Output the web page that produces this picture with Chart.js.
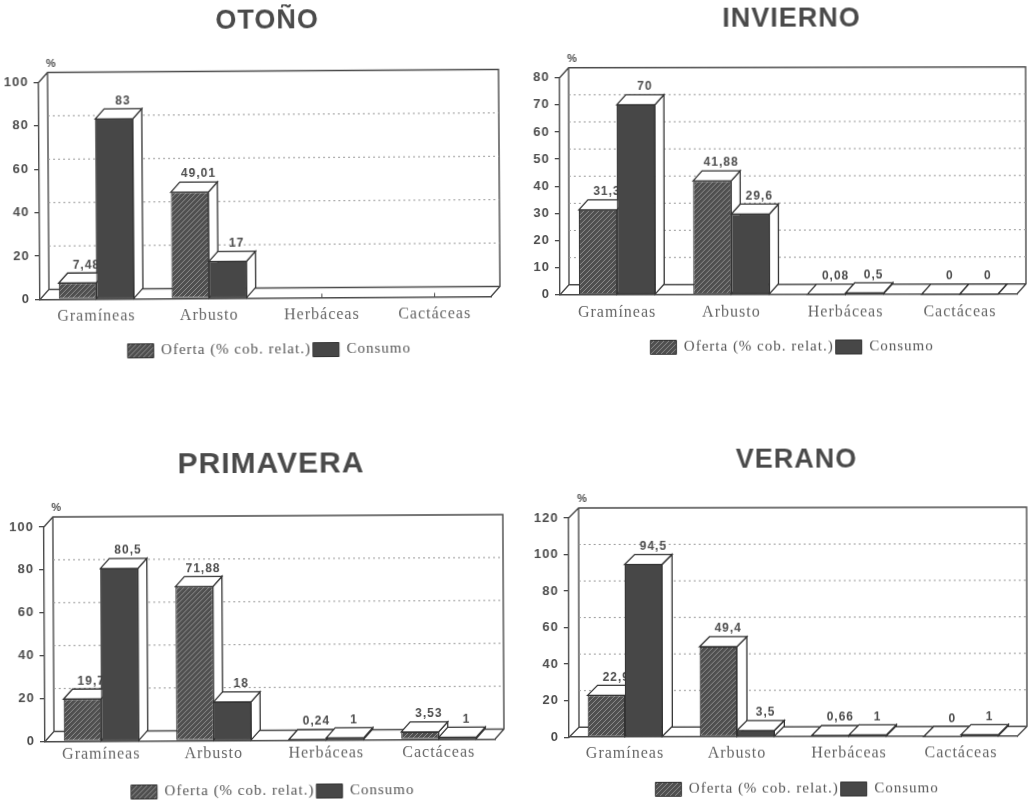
<!DOCTYPE html>
<html>
<head>
<meta charset="utf-8">
<title>Oferta y consumo por estación</title>
<script src="https://cdn.jsdelivr.net/npm/chart.js@4"></script>
<style>
    html, body { margin: 0; padding: 0; width: 1030px; height: 802px; overflow: hidden; background: #fff; }
    canvas { position: absolute; filter: blur(0.4px); }
</style>
</head>
<body>
<canvas id="otono"></canvas>
<canvas id="invierno"></canvas>
<canvas id="primavera"></canvas>
<canvas id="verano"></canvas>
<script>
const categories = ['Gramíneas', 'Arbusto', 'Herbáceas', 'Cactáceas'];
const ofertaLabel = 'Oferta (% cob. relat.)';
const consumoLabel = 'Consumo';

const otonoOferta = [7.48, 49.01, null, null];
const otonoConsumo = [83, 17, null, null];
const inviernoOferta = [31.3, 41.88, 0.08, 0];
const inviernoConsumo = [70, 29.6, 0.5, 0];
const primaveraOferta = [19.7, 71.88, 0.24, 3.53];
const primaveraConsumo = [80.5, 18, 1, 1];
const veranoOferta = [22.9, 49.4, 0.66, 0];
const veranoConsumo = [94.5, 3.5, 1, 1];

const LINE_COLOR = '#4a4a4a';
const TEXT_COLOR = '#4d4d4d';
// legend box is taller than its row, the row sits near the top of it
const LEGEND_BOX = 28;
const LEGEND_ROW_OFFSET = 8.5;

function makeHatch() {
    const tile = document.createElement('canvas');
    tile.width = 5;
    tile.height = 5;
    const c = tile.getContext('2d');
    c.fillStyle = '#4f4f4f';
    c.fillRect(0, 0, 5, 5);
    c.strokeStyle = '#8f8f8f';
    c.lineWidth = 1;
    c.beginPath();
    c.moveTo(-1, 6);
    c.lineTo(6, -1);
    c.moveTo(-1, 1);
    c.lineTo(1, -1);
    c.moveTo(4, 6);
    c.lineTo(6, 4);
    c.stroke();
    return c.createPattern(tile, 'repeat');
}

function polygon(ctx, points) {
    ctx.beginPath();
    points.forEach(([x, y], i) => (i ? ctx.lineTo(x, y) : ctx.moveTo(x, y)));
    ctx.closePath();
    ctx.fillStyle = '#fff';
    ctx.fill();
    ctx.stroke();
}

function drawBarExtras(chart, datasetIndex, dx, dy) {
    const { ctx } = chart;
    const values = chart.data.datasets[datasetIndex].data;
    ctx.save();
    ctx.strokeStyle = '#333';
    ctx.lineWidth = 1.3;
    chart.getDatasetMeta(datasetIndex).data.forEach((bar, i) => {
        if (values[i] === null) return;
        const left = bar.x - bar.width / 2;
        const right = bar.x + bar.width / 2;
        polygon(ctx, [[right, bar.y], [right + dx, bar.y - dy], [right + dx, bar.base - dy], [right, bar.base]]);
        polygon(ctx, [[left, bar.y], [left + dx, bar.y - dy], [right + dx, bar.y - dy], [right, bar.y]]);
        ctx.fillStyle = TEXT_COLOR;
        ctx.font = 'bold 12px "Liberation Sans"';
        ctx.textAlign = 'center';
        ctx.textBaseline = 'middle';
        ctx.fillText(String(values[i]).replace('.', ','), bar.x + dx, bar.y - dy - 8);
    });
    ctx.restore();
}

// back wall, side wall and floor, all hung off the library's scales
const roomPlugin = {
    id: 'room',
    beforeLayout(chart) {
        chart.ctx.letterSpacing = '1px';
    },
    beforeDraw(chart) {
        chart.ctx.letterSpacing = '1px';
    },
    beforeDatasetsDraw(chart, args, opts) {
        const { ctx, chartArea: a, scales } = chart;
        const { dx, dy } = opts;
        ctx.save();
        ctx.strokeStyle = LINE_COLOR;
        ctx.lineWidth = 1.4;
        ctx.beginPath();
        ctx.moveTo(a.left, a.top);
        ctx.lineTo(a.left + dx, a.top - dy);
        ctx.lineTo(a.right + dx, a.top - dy);
        ctx.lineTo(a.right + dx, a.bottom - dy);
        ctx.lineTo(a.right, a.bottom);
        ctx.moveTo(a.left, a.bottom);
        ctx.lineTo(a.left + dx, a.bottom - dy);
        ctx.lineTo(a.left + dx, a.top - dy);
        ctx.moveTo(a.left + dx, a.bottom - dy);
        ctx.lineTo(a.right + dx, a.bottom - dy);
        ctx.stroke();

        // dotted grid on the back wall
        ctx.strokeStyle = '#999';
        ctx.lineWidth = 1;
        ctx.setLineDash([2, 3]);
        scales.y.ticks.forEach(t => {
            if (t.value === 0 || t.value === scales.y.max) return;
            const y = scales.y.getPixelForValue(t.value) - dy;
            ctx.beginPath();
            ctx.moveTo(a.left + dx, y);
            ctx.lineTo(a.right + dx, y);
            ctx.stroke();
        });
        ctx.setLineDash([]);

        // small marks at the category centres
        ctx.strokeStyle = LINE_COLOR;
        categories.forEach((c, i) => {
            const x = scales.x.getPixelForValue(i);
            ctx.beginPath();
            ctx.moveTo(x, a.bottom);
            ctx.lineTo(x, a.bottom - 4);
            ctx.stroke();
        });

        ctx.fillStyle = TEXT_COLOR;
        ctx.font = 'bold 11px "Liberation Sans"';
        ctx.textAlign = 'center';
        ctx.textBaseline = 'middle';
        ctx.fillText('%', a.left + dx + 4, a.top - dy - 9);
        ctx.restore();
    },
    // oferta first, then consumo repainted over it so it hides what it should
    afterDatasetsDraw(chart, args, opts) {
        drawBarExtras(chart, 0, opts.dx, opts.dy);
        chart.getDatasetMeta(1).data.forEach((bar, i) => {
            if (chart.data.datasets[1].data[i] !== null) bar.draw(chart.ctx, chart.chartArea);
        });
        drawBarExtras(chart, 1, opts.dx, opts.dy);
    }
};

function drawPanel(id, title, oferta, consumo, p) {
    const canvas = document.getElementById(id);
    const canvasTop = Math.round(p.titleY - p.titleSize * 0.6);
    const legendTop = p.legendY - LEGEND_ROW_OFFSET;
    const canvasHeight = Math.round(legendTop + LEGEND_BOX - canvasTop);
    canvas.width = p.width;
    canvas.height = canvasHeight;
    canvas.style.left = p.left + 'px';
    canvas.style.top = canvasTop + 'px';
    canvas.style.transformOrigin = (p.x0 - p.left) + 'px ' + (p.y0 - canvasTop) + 'px';
    canvas.style.transform = 'rotate(' + p.tilt + 'deg)';

    new Chart(canvas.getContext('2d'), {
        type: 'bar',
        data: {
            labels: categories,
            datasets: [
                { label: ofertaLabel, data: oferta, yAxisID: 'y', backgroundColor: makeHatch(), borderColor: '#333', borderWidth: 1, borderSkipped: false },
                { label: consumoLabel, data: consumo, yAxisID: 'y', backgroundColor: '#474747', borderColor: '#333', borderWidth: 1, borderSkipped: false }
            ]
        },
        plugins: [roomPlugin],
        options: {
            responsive: false,
            animation: false,
            layout: { autoPadding: false, padding: 0 },
            datasets: { bar: { categoryPercentage: 0.667, barPercentage: 1 } },
            plugins: {
                tooltip: { enabled: false },
                room: { dx: p.dx, dy: p.dy },
                title: {
                    display: true,
                    text: title,
                    color: '#4a4a4a',
                    font: { family: '"Liberation Sans"', size: p.titleSize, weight: 'bold', lineHeight: 1.2 },
                    padding: { top: 0, bottom: p.y1 - canvasTop - p.titleSize * 1.2 }
                },
                legend: {
                    position: 'bottom',
                    labels: {
                        boxWidth: 26,
                        boxHeight: 14,
                        padding: 2,
                        color: '#555',
                        font: { family: '"Liberation Serif"', size: 15 }
                    }
                }
            },
            scales: {
                x: {
                    afterFit(scale) {
                        scale.height = legendTop - p.y0;
                    },
                    grid: { display: false, drawTicks: false },
                    border: { color: LINE_COLOR, width: 1.6 },
                    ticks: {
                        color: '#666',
                        padding: p.labelGap,
                        maxRotation: 0,
                        autoSkip: false,
                        font: { family: '"Liberation Serif"', size: 16 }
                    }
                },
                y: {
                    min: 0,
                    max: p.max,
                    afterFit(scale) {
                        scale.width = p.x0 - p.left;
                    },
                    grid: { drawOnChartArea: false, tickLength: 5, color: LINE_COLOR, lineWidth: 1.3 },
                    border: { color: LINE_COLOR, width: 1.4 },
                    ticks: {
                        stepSize: p.step,
                        color: TEXT_COLOR,
                        padding: 5,
                        font: { family: '"Liberation Sans"', size: 13, weight: 'bold' }
                    }
                },
                // empty axis, only keeps room on the right so title and legend stay centred on the canvas
                rightGap: {
                    position: 'right',
                    afterFit(scale) {
                        scale.width = p.left + p.width - p.xR;
                    },
                    grid: { display: false },
                    border: { display: false },
                    ticks: { display: false }
                }
            }
        }
    });
}

document.addEventListener('DOMContentLoaded', function() {
    drawPanel('otono', 'OTOÑO', otonoOferta, otonoConsumo, {
        left: 0, width: 538, x0: 40, xR: 491, y1: 82.5, y0: 298, dx: 9, dy: 10,
        titleY: 22.5, titleSize: 27, legendY: 349, labelGap: 8, max: 100, step: 20, tilt: -0.38
    });
    drawPanel('invierno', 'INVIERNO', inviernoOferta, inviernoConsumo, {
        left: 517, width: 550, x0: 560, xR: 1017, y1: 77.7, y0: 294, dx: 9, dy: 10,
        titleY: 19.5, titleSize: 27, legendY: 345.7, labelGap: 8, max: 80, step: 10, tilt: -0.1
    });
    drawPanel('primavera', 'PRIMAVERA', primaveraOferta, primaveraConsumo, {
        left: 0, width: 545, x0: 45, xR: 495, y1: 527, y0: 740, dx: 9, dy: 10,
        titleY: 465.5, titleSize: 30, legendY: 790, labelGap: 4, max: 100, step: 20, tilt: -0.3
    });
    drawPanel('verano', 'VERANO', veranoOferta, veranoConsumo, {
        left: 517, width: 560, x0: 569, xR: 1017, y1: 518, y0: 735.7, dx: 10, dy: 10,
        titleY: 460.5, titleSize: 27, legendY: 787, labelGap: 7, max: 120, step: 20, tilt: -0.1
    });
});
</script>
</body>
</html>
